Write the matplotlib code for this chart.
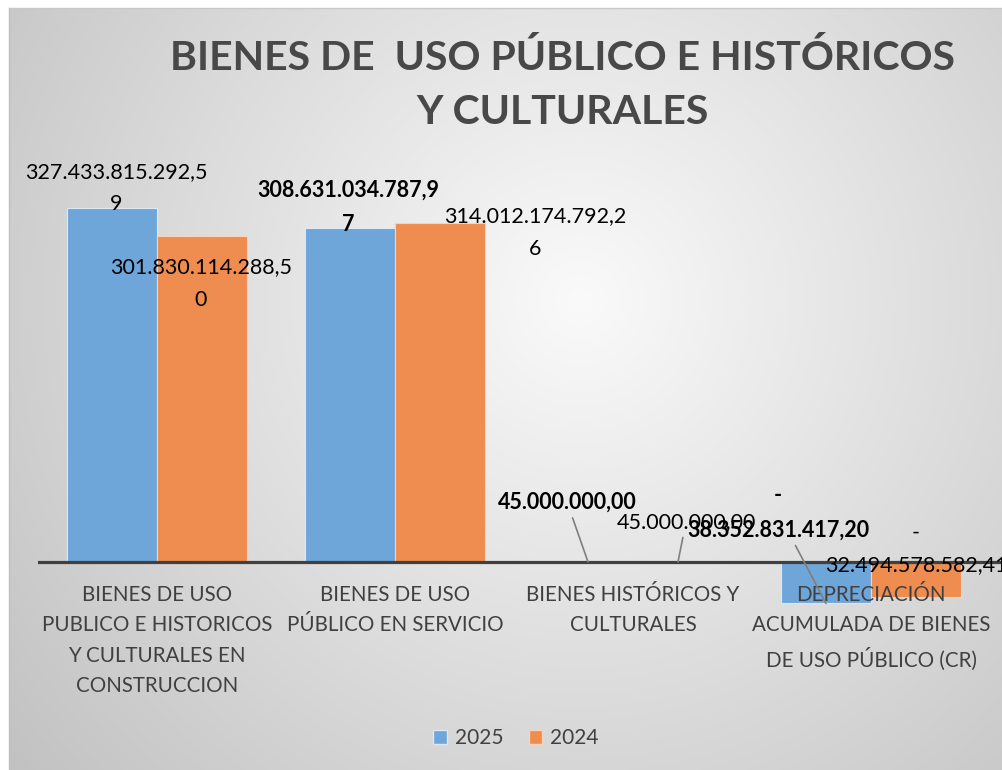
import numpy as np
import matplotlib.pyplot as plt
from matplotlib.patches import Patch

# data
categories = ['BIENES DE USO\nPUBLICO E HISTORICOS\nY CULTURALES EN\nCONSTRUCCION',
              'BIENES DE USO\nPÚBLICO EN SERVICIO',
              'BIENES HISTÓRICOS Y\nCULTURALES',
              'DEPRECIACIÓN\nACUMULADA DE BIENES\nDE USO PÚBLICO (CR)']
v2025 = [327433815292.59, 308631034787.97, 45000000.00, -38352831417.20]
v2024 = [301830114288.50, 314012174792.26, 45000000.00, -32494578582.41]
lab2025 = ['327.433.815.292,5\n9', '308.631.034.787,9\n7', '45.000.000,00', '-\n38.352.831.417,20']
lab2024 = ['301.830.114.288,5\n0', '314.012.174.792,2\n6', '45.000.000,00', '-\n32.494.578.582,41']
series = ['2025', '2024']

c25 = '#6FA6DA'
c24 = '#EE8D4F'
FONT = 'Lato'
W, H = 1002, 770

fig = plt.figure(figsize=(W / 100, H / 100), dpi=100)

# gradient background
bg = fig.add_axes([0, 0, 1, 1], zorder=-5)
yy, xx = np.mgrid[0:H, 0:W]
r = np.sqrt((xx - 580) ** 2 + (yy - 300) ** 2) / 720
g = 250 - 55 * np.clip(r, 0, 1.2)
img = np.dstack([g, g, g]) / 255
img[:8, :, :] = 1
img[:, :9, :] = 1
bg.imshow(img, aspect='auto', extent=(0, W, H, 0))
bg.plot([9, 9], [8, H], color='#bfbfbf', lw=1)
bg.plot([9, W], [8, 8], color='#c8c8c8', lw=1)
bg.set_xlim(0, W)
bg.set_ylim(H, 0)
bg.axis('off')

# main axes: zero line at y=562 px, 1.081 px per 1e9
left_px, right_px = 38, 1002
ymax, ymin = 345e9, -45e9
top_px = 562 - 345 * 1.081
bot_px = 562 + 45 * 1.081
ax = fig.add_axes([left_px / W, 1 - bot_px / H, (right_px - left_px) / W, (bot_px - top_px) / H])
ax.set_xlim(-0.5, -0.5 + (right_px - left_px) / 238)
ax.set_ylim(ymin, ymax)
ax.patch.set_alpha(0)
for s in ax.spines.values():
    s.set_visible(False)
ax.set_xticks([])
ax.set_yticks([])

x = np.arange(len(categories))
bw = 0.378
ax.bar(x - bw / 2, v2025, bw, color=c25, edgecolor='#dbe8f5', lw=0.8, zorder=2)
ax.bar(x + bw / 2, v2024, bw, color=c24, edgecolor='#f8d3bb', lw=0.8, zorder=2)
ax.axhline(0, color='#404040', lw=2.3, zorder=3)

# data labels (offsets in px from bar end)
off25 = [(4, 20, 'normal'), (-2, 21, 'bold'), (-21, 60, 'bold'), (-48, 91, 'bold')]
off24 = [(-1, -48, 'normal'), (95, -10, 'normal'), (8, 40, 'normal'), (0, 48, 'normal')]
lead25 = [False, False, True, True]
lead24 = [False, False, True, False]
for i in range(len(categories)):
    for vals, labs, offs, leads, sx in ((v2025, lab2025, off25, lead25, -1), (v2024, lab2024, off24, lead24, 1)):
        dx, dy, fw = offs[i]
        ap = dict(arrowstyle='-', color='#7f7f7f', lw=1.2, shrinkA=2, shrinkB=0) if leads[i] else None
        ax.annotate(labs[i], xy=(x[i] + sx * bw / 2, vals[i]), xytext=(dx * 0.72, dy * 0.72),
                    textcoords='offset points', ha='center', va='center', fontsize=15.5,
                    fontweight=fw, family=FONT, color='black', linespacing=1.8,
                    arrowprops=ap, zorder=5, annotation_clip=False)

# category labels
for i, c in enumerate(categories):
    ax.annotate(c, xy=(x[i], 0), xytext=(0, -16.5), textcoords='offset points', ha='center',
                va='top', fontsize=14.8, family=FONT, color='#404040', linespacing=1.65,
                zorder=4, annotation_clip=False)

fig.text(562 / W, 1 - 85 / H, 'BIENES DE  USO PÚBLICO E HISTÓRICOS\nY CULTURALES', ha='center',
         va='center', fontsize=29.5, fontweight='bold', family=FONT, color='#484848', linespacing=1.55)

handles = [Patch(facecolor=c25, edgecolor='#dbe8f5'), Patch(facecolor=c24, edgecolor='#f8d3bb')]
fig.legend(handles, series, loc='center', bbox_to_anchor=(516 / W, 1 - 738 / H), ncol=2,
           frameon=False, prop={'family': FONT, 'size': 15}, labelcolor='#404040',
           handlelength=0.65, handleheight=0.65, handletextpad=0.4, columnspacing=1.2)

fig.savefig('out.png', dpi=100)
